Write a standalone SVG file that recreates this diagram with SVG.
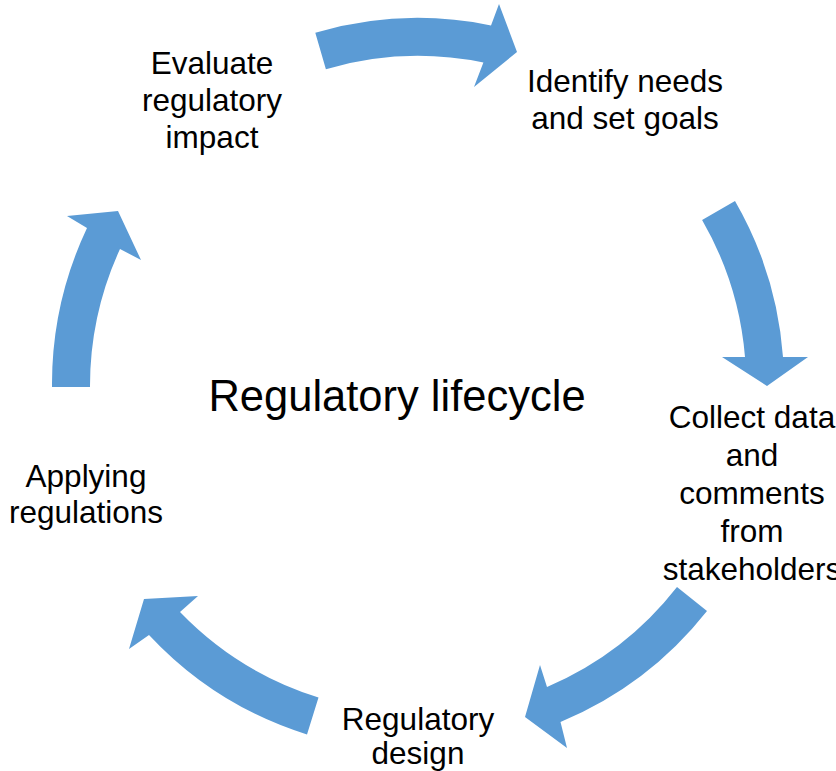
<svg xmlns="http://www.w3.org/2000/svg" width="836" height="771" viewBox="0 0 836 771">
<style>
.arrow{fill:#5B9BD5;stroke:none}
.lbl{font-family:"Liberation Sans","Noto Sans",Arial,sans-serif;font-size:31.5px;fill:#000;text-anchor:middle}
.title{font-family:"Liberation Sans","Noto Sans",Arial,sans-serif;font-size:43.5px;fill:#000;text-anchor:middle}
</style>
<rect width="836" height="771" fill="#fff"/>
<g id="connectors">
<path class="arrow" d="M315.3,32.7 A366,366 0 0 1 491,25.4 L499,4 L517,52 L474,87 L483.4,62.6 A328,328 0 0 0 325.9,69.2 Z"/>
<path class="arrow" d="M735,201 A366,366 0 0 1 783,357 L808,357 L767,386 L722,357 L745,357 A328,328 0 0 0 702.1,220 Z"/>
<path class="arrow" d="M707,611 A366,366 0 0 1 560.5,722 L567,748 L525,717 L540,665 L547,687 A328,328 0 0 0 677,587 Z"/>
<path class="arrow" d="M307,734.5 A366,366 0 0 1 149,635 L129,649 L144,599 L198,596 L180,612 A328,328 0 0 0 318.5,697.5 Z"/>
<path class="arrow" d="M52,387 A366,366 0 0 1 87,228 L67,216 L118,211 L141,260 L120,249 A328,328 0 0 0 90,387 Z"/>
</g>
<g id="title"><text class="title" x="397" y="411">Regulatory lifecycle</text></g>
<g id="node-identify"><text class="lbl" x="625" y="92">Identify needs</text><text class="lbl" x="625" y="129">and set goals</text></g>
<g id="node-collect"><text class="lbl" x="752" y="428">Collect data</text><text class="lbl" x="752" y="466">and</text><text class="lbl" x="752" y="504">comments</text><text class="lbl" x="752" y="542">from</text><text class="lbl" x="752" y="580">stakeholders</text></g>
<g id="node-design"><text class="lbl" x="418" y="730">Regulatory</text><text class="lbl" x="418" y="764">design</text></g>
<g id="node-applying"><text class="lbl" x="86" y="487">Applying</text><text class="lbl" x="86" y="523">regulations</text></g>
<g id="node-evaluate"><text class="lbl" x="212" y="74">Evaluate</text><text class="lbl" x="212" y="111">regulatory</text><text class="lbl" x="212" y="148">impact</text></g>
</svg>
